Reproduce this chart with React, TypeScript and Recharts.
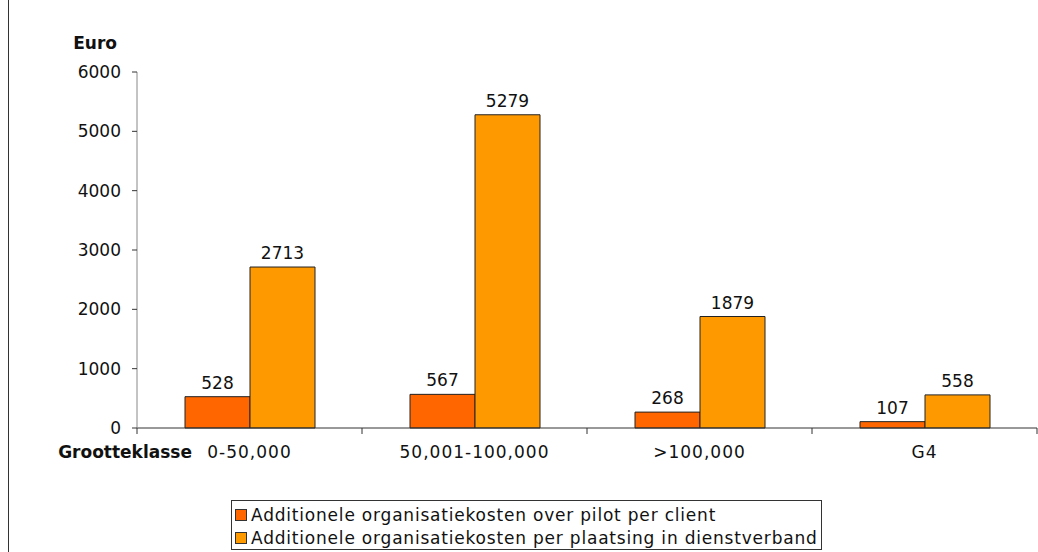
import { BarChart, Bar, XAxis, YAxis, LabelList } from 'recharts';

const categories = ['0-50,000', '50,001-100,000', '>100,000', 'G4'];
const pilotPerClient = [528, 567, 268, 107];
const perPlaatsing = [2713, 5279, 1879, 558];
const yTicks = [0, 1000, 2000, 3000, 4000, 5000, 6000];

const seriesNames = [
  'Additionele organisatiekosten over pilot per client',
  'Additionele organisatiekosten per plaatsing in dienstverband',
];
const seriesColors = ['#FF6600', '#FF9900'];

const data = categories.map((name, i) => ({
  name,
  pilot: pilotPerClient[i],
  plaatsing: perPlaatsing[i],
}));

const FONT = '"DejaVu Sans", Verdana, sans-serif';
const FONT_SIZE = 17;

// category tick: label in the middle, tick marks on the band boundaries
function CategoryTick(props: any) {
  const { x, y, payload, width, index, visibleTicksCount } = props;
  const half = width / visibleTicksCount / 2;
  const isLast = index === visibleTicksCount - 1;
  return (
    <g>
      <line x1={x - half} x2={x - half} y1={y} y2={y + 6} stroke="#333" />
      {isLast && <line x1={x + half} x2={x + half} y1={y} y2={y + 6} stroke="#333" />}
      <text
        x={x}
        y={y + 24}
        textAnchor="middle"
        dominantBaseline="central"
        fontFamily={FONT}
        fontSize={FONT_SIZE}
        letterSpacing={1}
        fill="#111"
      >
        {payload.value}
      </text>
    </g>
  );
}

export default function App() {
  return (
    <div style={{ position: 'absolute', left: 0, top: 0, width: 1038, height: 552, background: '#fff' }}>
      <div style={{ position: 'absolute', left: 8, top: 0, width: 1, height: 552, background: '#333' }} />
      <BarChart
        width={1038}
        height={552}
        data={data}
        margin={{ top: 72, right: 1, bottom: 84, left: 0 }}
        barGap={0}
        barSize={65}
        style={{ fontFamily: FONT }}
      >
        <XAxis
          dataKey="name"
          height={40}
          tickLine={false}
          tickSize={0}
          tickMargin={0}
          axisLine={{ stroke: '#333' }}
          tick={<CategoryTick />}
          interval={0}
          label={{
            content: ({ viewBox }: any) => (
              <text
                x={viewBox.x + 55}
                y={viewBox.y + 24}
                textAnchor="end"
                dominantBaseline="central"
                fontFamily={FONT}
                fontSize={FONT_SIZE}
                fontWeight="bold"
                fill="#111"
              >
                Grootteklasse
              </text>
            ),
          }}
        />
        <YAxis
          width={137}
          domain={[0, 6000]}
          ticks={yTicks}
          interval={0}
          tickSize={5}
          tickMargin={11}
          axisLine={{ stroke: '#888' }}
          tickLine={{ stroke: '#333' }}
          tick={{ fill: '#111', fontSize: FONT_SIZE, fontFamily: FONT }}
          label={{
            content: ({ viewBox }: any) => (
              <text
                x={viewBox.x + viewBox.width - 20}
                y={viewBox.y - 29}
                textAnchor="end"
                dominantBaseline="central"
                fontFamily={FONT}
                fontSize={FONT_SIZE}
                fontWeight="bold"
                fill="#111"
              >
                Euro
              </text>
            ),
          }}
        />
        <Bar dataKey="pilot" name={seriesNames[0]} fill={seriesColors[0]} stroke="#222" strokeWidth={1} isAnimationActive={false}>
          <LabelList dataKey="pilot" position="top" offset={8} fill="#111" fontSize={FONT_SIZE} fontFamily={FONT} />
        </Bar>
        <Bar dataKey="plaatsing" name={seriesNames[1]} fill={seriesColors[1]} stroke="#222" strokeWidth={1} isAnimationActive={false}>
          <LabelList dataKey="plaatsing" position="top" offset={8} fill="#111" fontSize={FONT_SIZE} fontFamily={FONT} />
        </Bar>
      </BarChart>
      <div
        style={{
          position: 'absolute',
          left: 231,
          top: 500,
          width: 591,
          height: 50,
          border: '1px solid #333',
          boxSizing: 'border-box',
          fontFamily: FONT,
          fontSize: FONT_SIZE,
          letterSpacing: 0.8,
          color: '#111',
          padding: '2px 0 0 3px',
        }}
      >
        {seriesNames.map((n, i) => (
          <div key={n} style={{ display: 'flex', alignItems: 'center', height: 23, whiteSpace: 'nowrap' }}>
            <span
              style={{
                display: 'inline-block',
                width: 10,
                height: 10,
                background: seriesColors[i],
                border: '1px solid #333',
                marginRight: 4,
              }}
            />
            {n}
          </div>
        ))}
      </div>
    </div>
  );
}
